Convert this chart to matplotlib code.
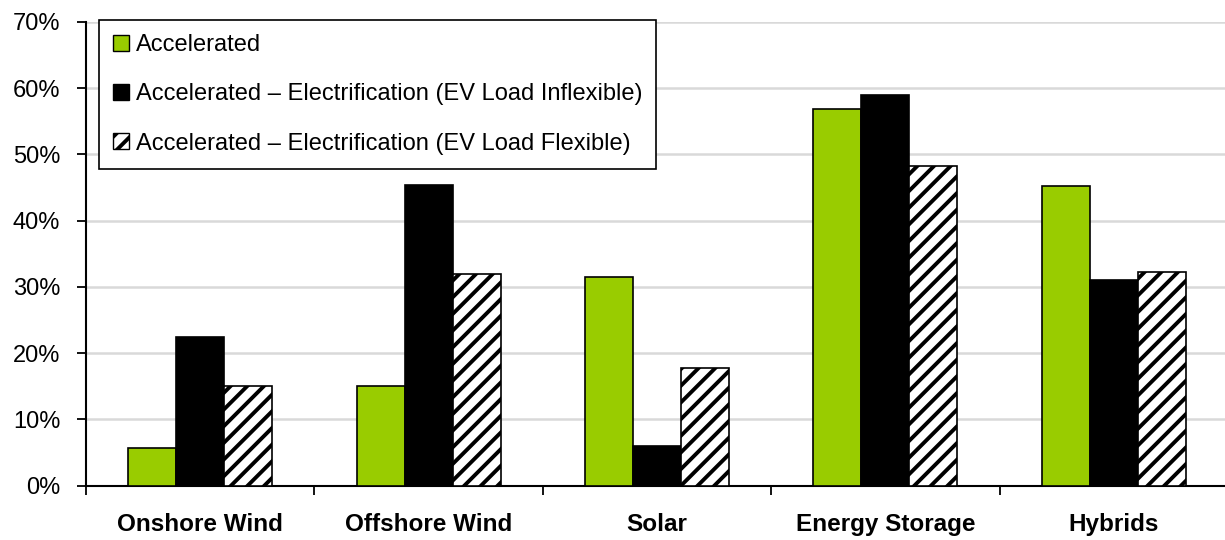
import matplotlib
matplotlib.use("Agg")
import matplotlib.pyplot as plt
import numpy as np
from matplotlib.patches import Patch
from matplotlib.ticker import FuncFormatter, FixedLocator

categories = ["Onshore Wind", "Offshore Wind", "Solar", "Energy Storage", "Hybrids"]
accelerated = [5.6, 15.0, 31.5, 56.8, 45.2]
ev_inflexible = [22.5, 45.4, 5.9, 59.0, 31.0]
ev_flexible = [15.1, 32.0, 17.8, 48.2, 32.3]
series_labels = ["Accelerated",
                 "Accelerated \u2013 Electrification (EV Load Inflexible)",
                 "Accelerated \u2013 Electrification (EV Load Flexible)"]

plt.rcParams['font.family'] = ['Liberation Sans', 'DejaVu Sans']
plt.rcParams['hatch.linewidth'] = 2.8

fig = plt.figure(figsize=(12.25, 5.4), dpi=100)
ax = fig.add_axes([86/1225, 1-485.5/540, 1142/1225, (485.5-22)/540])

x = np.arange(len(categories))
w = 0.21
green = "#99CC00"
ax.bar(x - w, accelerated, w, color=green, edgecolor="black", linewidth=1.2, zorder=3)
ax.bar(x, ev_inflexible, w, color="black", edgecolor="black", linewidth=1.2, zorder=3)
ax.bar(x + w, ev_flexible, w, color="white", edgecolor="black", linewidth=1.2, hatch="//", zorder=3)

ax.set_xlim(-0.5, 4.5)
ax.set_ylim(0, 70)
ax.set_yticks(np.arange(0, 71, 10))
ax.yaxis.set_major_formatter(FuncFormatter(lambda v, p: f"{int(v)}%"))
ax.grid(axis='y', color="#d9d9d9", linewidth=1.8, zorder=0)
ax.set_axisbelow(True)

ax.xaxis.set_major_locator(FixedLocator(np.arange(-0.5, 5.0, 1.0)))
ax.set_xticklabels([])
ax.xaxis.set_minor_locator(FixedLocator(x))
ax.set_xticklabels(categories, minor=True, fontsize=17.5, fontweight='bold')
ax.tick_params(axis='x', which='major', length=6.5, width=1.3, direction='out')
ax.tick_params(axis='x', which='minor', length=0, pad=20)
ax.tick_params(axis='y', length=6.5, width=1.3, direction='out', labelsize=17, pad=12)

for s in ['top', 'right']:
    ax.spines[s].set_visible(False)
for s in ['left', 'bottom']:
    ax.spines[s].set_linewidth(1.5)
    ax.spines[s].set_color('black')

handles = [Patch(facecolor=green, edgecolor="black", linewidth=1.0),
           Patch(facecolor="black", edgecolor="black", linewidth=1.0),
           Patch(facecolor="white", edgecolor="black", linewidth=1.0, hatch="//")]
leg = ax.legend(handles, series_labels, loc='upper left', bbox_to_anchor=(13/1142, 1.004),
                fontsize=17, frameon=True, fancybox=False, edgecolor='black', framealpha=1,
                handlelength=0.65, handleheight=0.65, handletextpad=0.3,
                labelspacing=1.15, borderpad=0.6, borderaxespad=0)
leg.get_frame().set_linewidth(1.2)
leg.set_zorder(5)

fig.savefig("out.png", dpi=100)
